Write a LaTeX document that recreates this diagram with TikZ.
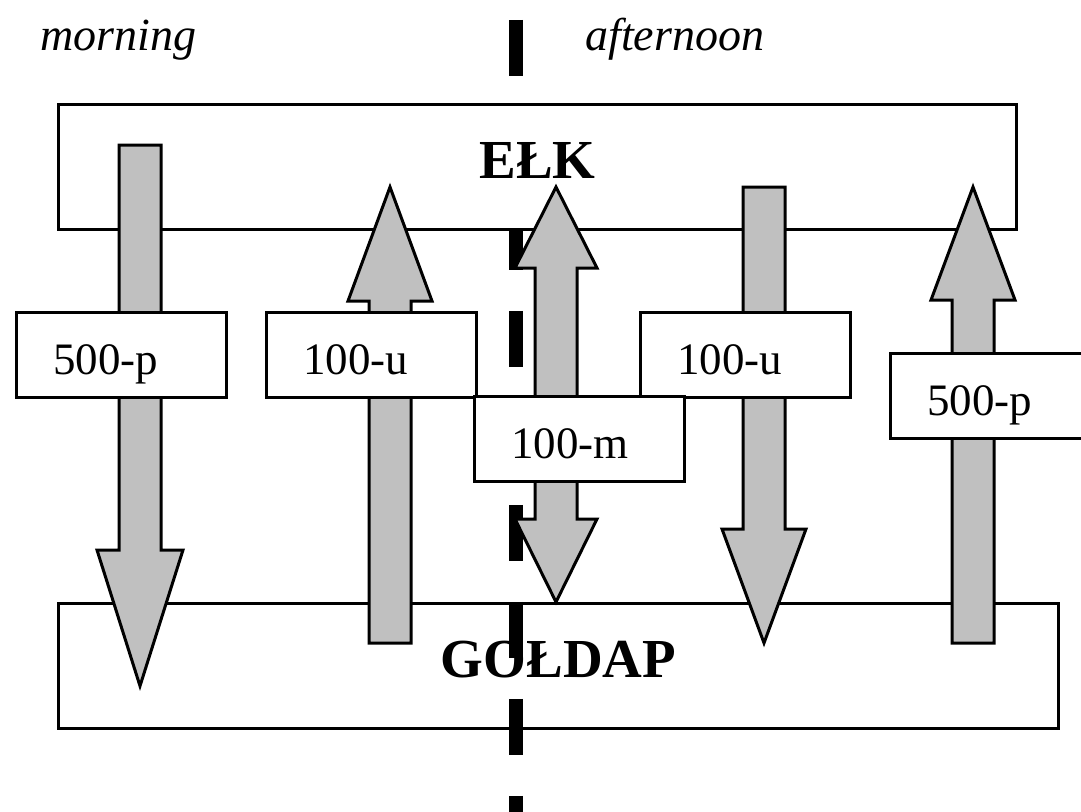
\documentclass[tikz,border=0pt]{standalone}
\usepackage{fontspec}
\setmainfont{Liberation Serif}

\definecolor{arrowgray}{RGB}{192,192,192}

\begin{document}
\begin{tikzpicture}[
				x=0.02cm, y=-0.02cm,
				citybox/.style={
					draw,
					fill=white,
					line width=0.06cm,
					anchor=north west,
					text height=0.72cm,
					text depth=0.26cm,
					font=\fontsize{31.3}{36}\selectfont\bfseries
				},
				tripbox/.style={
					draw,
					fill=white,
					line width=0.06cm,
					anchor=north west,
					minimum height=1.7cm,
					inner xsep=0.74cm,
					text width=2.72cm,
					align=left,
					text height=0.9cm,
					text depth=0.12cm,
					font=\fontsize{25.6}{30}\selectfont
				},
				shuttle/.style={draw,fill=arrowgray,line width=0.06cm},
				divider/.style={line width=0.28cm,dash pattern=on 1.12cm off 0.82cm},
				timelabel/.style={anchor=base west,inner sep=0pt,font=\fontsize{26.2}{30}\selectfont\itshape}
				]
				\useasboundingbox (0,0) rectangle (1081,811);
				
				\node[citybox,minimum width=20cm,minimum height=2.5cm] (goldap) at (57,602) {GOŁDAP};
				
				\coordinate (divtop) at (516,20);
				\coordinate (divend) at (516,860);
				\draw[divider] (divtop) -- (divend);
				
				\node[citybox,minimum width=19.16cm,minimum height=2.5cm] (elk) at (57,103) {EŁK};
				
				% morning
				\draw[shuttle] (119,145) -- (161,145) -- (161,550) -- (183,550) -- (140,686) -- (97,550) -- (119,550) -- cycle;
				\draw[shuttle] (369,643) -- (411,643) -- (411,301) -- (432,301) -- (390,187) -- (348,301) -- (369,301) -- cycle;
				\draw[shuttle] (535,268) -- (515,268) -- (556,187) -- (597,268) -- (577,268) -- (577,519)
				-- (597,519) -- (556,602) -- (515,519) -- (535,519) -- cycle;
				% afternoon
				\draw[shuttle] (743,187) -- (785,187) -- (785,529) -- (806,529) -- (764,643) -- (722,529) -- (743,529) -- cycle;
				\draw[shuttle] (952,643) -- (994,643) -- (994,300) -- (1015,300) -- (973,187) -- (931,300) -- (952,300) -- cycle;
				
				\node[tripbox] (pm500) at (15,311) {500-p};
				\node[tripbox] (um100) at (265,311) {100-u};
				\node[tripbox] (ua100) at (639,311) {100-u};
				\node[tripbox] (pa500) at (889,352) {500-p};
				\node[tripbox] (mm100) at (473,395) {100-m};
				
				\node[timelabel] (morning) at (40,51) {morning};
				\node[timelabel] (afternoon) at (585,51) {afternoon};
			\end{tikzpicture}
\end{document}
